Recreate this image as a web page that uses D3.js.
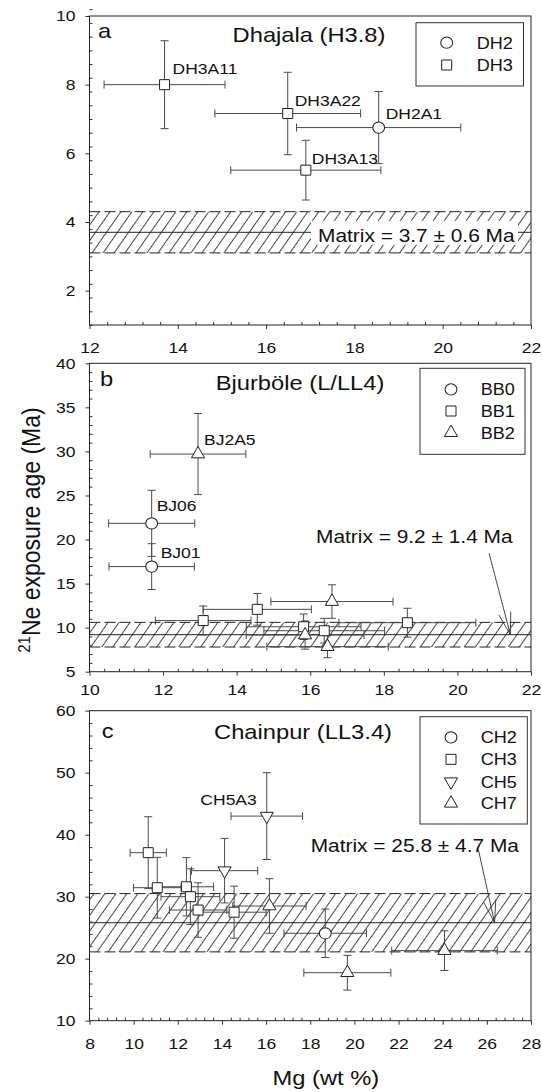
<!DOCTYPE html>
<html><head><meta charset="utf-8">
<script src="https://cdn.jsdelivr.net/npm/d3@7"></script>
<style>body{margin:0;background:#fff}svg{display:block}</style>
</head><body>
<script>
// ---------------- DATA ----------------
// each point: [x (Mg wt%), x error, y (21Ne age Ma), y error]
const aSeries = ["DH2", "DH3"];
const aDH2 = [[18.55, 1.86, 6.75, 1.05]];
const aDH3 = [[13.70, 1.37, 8.00, 1.28], [16.49, 1.65, 7.16, 1.20], [16.90, 1.70, 5.51, 0.87]];
const aPointLabels = [["DH3A11", "DH3", 0], ["DH3A22", "DH3", 1], ["DH2A1", "DH2", 0], ["DH3A13", "DH3", 2]];
const aMatrix = [3.7, 0.6];
const aXTicks = [12, 14, 16, 18, 20, 22];
const aYTicks = [2, 4, 6, 8, 10];

const bSeries = ["BB0", "BB1", "BB2"];
const bBB0 = [[11.69, 1.17, 21.84, 3.75], [11.69, 1.16, 16.93, 2.60]];
const bBB1 = [[13.09, 1.30, 10.80, 1.65], [14.56, 1.47, 12.08, 1.80], [15.82, 1.56, 10.10, 1.45], [16.38, 1.64, 9.65, 1.40], [18.64, 1.86, 10.56, 1.64]];
const bBB2 = [[12.95, 1.30, 29.70, 4.60], [16.59, 1.66, 12.96, 1.90], [15.86, 1.60, 9.16, 1.60], [16.47, 1.65, 7.84, 1.25]];
const bPointLabels = [["BJ2A5", "BB2", 0], ["BJ06", "BB0", 0], ["BJ01", "BB0", 1]];
const bMatrix = [9.2, 1.4];
const bArrow = [[20.86, 18.44], [21.44, 9.2]];
const bXTicks = [10, 12, 14, 16, 18, 20, 22];
const bYTicks = [5, 10, 15, 20, 25, 30, 35, 40];

const cSeries = ["CH2", "CH3", "CH5", "CH7"];
const cCH2 = [[18.68, 1.87, 24.10, 3.90]];
const cCH3 = [[10.66, 0.82, 37.10, 5.80], [11.07, 1.08, 31.45, 4.90], [12.39, 1.23, 31.60, 4.70], [12.57, 1.33, 30.00, 4.50], [12.92, 1.30, 27.85, 4.40], [14.55, 1.45, 27.50, 4.20]];
const cCH5 = [[14.12, 1.50, 34.20, 5.20], [16.03, 1.62, 43.00, 7.00]];
const cCH7 = [[16.15, 1.66, 28.50, 4.40], [19.68, 1.97, 17.74, 2.80], [24.08, 2.39, 21.30, 3.20]];
const cPointLabels = [["CH5A3", "CH5", 1]];
const cMatrix = [25.8, 4.7];
const cArrow = [[25.62, 37.53], [26.35, 25.8]];
const cXTicks = [8, 10, 12, 14, 16, 18, 20, 22, 24, 26, 28];
const cYTicks = [10, 20, 30, 40, 50, 60];

const xTitle = "Mg (wt %)";
const yTitleSup = "21";
const yTitleMain = "Ne exposure age (Ma)";

// ---------------- LAYOUT / STYLE ----------------
const W = 542, H = 1092, SX = 1.13;
const FONT = "'Liberation Sans', Arial, Helvetica, sans-serif";
const INK = "#222", BAR = "#4a4a4a";
const L = 89.5, R = 531;
const TICK_FS = 15.5, LEG_FS = 16, LAB_FS = 15.5, MAT_FS = 18.5, TITLE_FS = 21;

const panels = [
  { letter: "a", title: "Dhajala (H3.8)", top: 16, bottom: 325, xd: [12, 22], yd: [1, 10],
    xt: aXTicks, yt: aYTicks, xMinorStep: 0.4, yMinorStep: 0.4, xPad: 13,
    series: aSeries, data: { DH2: aDH2, DH3: aDH3 }, shapes: { DH2: "circle", DH3: "square" },
    labels: aPointLabels, labelOff: { DH3A11: [8, -11], DH3A22: [7, -8], DH2A1: [7, -9], DH3A13: [6, -6] },
    matrix: aMatrix, mText: "Matrix = 3.7 \u00b1 0.6 Ma", mPos: [318, 241.5], mBox: true, arrow: null,
    titleX: 309, titleY: 41.5, letterX: 98, letterY: 38,
    legend: { x0: 416, x1: 523.5, y0: 22.7, y1: 86, symX: 446.7, txtX: 476.7, rows: [42.7, 65] } },
  { letter: "b", title: "Bjurb\u00f6le (L/LL4)", top: 363.3, bottom: 671.7, xd: [10, 22], yd: [5, 40],
    xt: bXTicks, yt: bYTicks, xMinorStep: 0.4, yMinorStep: 1, xPad: 8,
    series: bSeries, data: { BB0: bBB0, BB1: bBB1, BB2: bBB2 }, shapes: { BB0: "circle", BB1: "square", BB2: "triangle" },
    labels: bPointLabels, labelOff: { BJ2A5: [6, -9], BJ06: [5, -12], BJ01: [9, -9] },
    matrix: bMatrix, mText: "Matrix = 9.2 \u00b1 1.4 Ma", mPos: [316, 542.7], mBox: false, arrow: bArrow,
    titleX: 300, titleY: 390, letterX: 100, letterY: 386,
    legend: { x0: 420, x1: 525, y0: 368.3, y1: 454.3, symX: 451, txtX: 480.7, rows: [389.3, 411, 432.7] } },
  { letter: "c", title: "Chainpur (LL3.4)", top: 710.7, bottom: 1020.7, xd: [8, 28], yd: [10, 60],
    xt: cXTicks, yt: cYTicks, xMinorStep: 0.4, yMinorStep: 2, xPad: 13,
    series: cSeries, data: { CH2: cCH2, CH3: cCH3, CH5: cCH5, CH7: cCH7 }, shapes: { CH2: "circle", CH3: "square", CH5: "triangleDown", CH7: "triangle" },
    labels: cPointLabels, labelOff: { CH5A3: [-10, -11, "end"] },
    matrix: cMatrix, mText: "Matrix = 25.8 \u00b1 4.7 Ma", mPos: [310.7, 851.7], mBox: false, arrow: cArrow,
    titleX: 303, titleY: 739.3, letterX: 101.7, letterY: 738.3,
    legend: { x0: 420, x1: 527.3, y0: 716.7, y1: 824, symX: 451, txtX: 480.7, rows: [737.3, 759.3, 781.7, 803.3] } }
];

const svg = d3.select("body").append("svg").attr("width", W).attr("height", H)
  .style("font-family", FONT);

const defs = svg.append("defs");
const pat = defs.append("pattern").attr("id", "hatch").attr("patternUnits", "userSpaceOnUse")
  .attr("width", 9).attr("height", 9).attr("patternTransform", "rotate(35)");
pat.append("line").attr("x1", 4.5).attr("y1", -1).attr("x2", 4.5).attr("y2", 10)
  .attr("stroke", "#333").attr("stroke-width", 0.9);

// horizontally stretched text helper
function stretch(sel) {
  sel.each(function () {
    const t = d3.select(this);
    const x = +t.attr("x") || 0, y = +t.attr("y") || 0;
    t.attr("x", 0).attr("y", 0).attr("transform", `translate(${x},${y}) scale(${SX},1)`);
  });
}
function addText(g, x, y, txt, size, anchor) {
  const t = g.append("text").attr("x", x).attr("y", y).text(txt)
    .attr("font-size", size).attr("fill", "#111").attr("text-anchor", anchor || "start");
  stretch(t);
  return t;
}
function symPath(shape, size) {
  const map = { circle: d3.symbolCircle, square: d3.symbolSquare, triangle: d3.symbolTriangle, triangleDown: d3.symbolTriangle };
  return d3.symbol().type(map[shape]).size(size)();
}
const symSize = { circle: 100, square: 100, triangle: 75, triangleDown: 75 };
function drawSym(g, shape, cx, cy) {
  const rot = shape === "triangleDown" ? " rotate(180)" : "";
  g.append("path").attr("d", symPath(shape, symSize[shape]))
    .attr("transform", `translate(${cx},${cy})${rot} scale(${shape === "circle" ? 1.05 : 1.0},1)`)
    .attr("fill", "#fff").attr("stroke", INK).attr("stroke-width", 1);
}
function minorTicks(dom, step, majors) {
  const out = [];
  const n = Math.round((dom[1] - dom[0]) / step);
  for (let i = 0; i <= n; i++) {
    const v = +(dom[0] + i * step).toFixed(4);
    if (!majors.some(m => Math.abs(m - v) < 1e-6)) out.push(v);
  }
  return out;
}

panels.forEach(p => {
  const g = svg.append("g");
  const x = d3.scaleLinear().domain(p.xd).range([L, R]);
  const y = d3.scaleLinear().domain(p.yd).range([p.bottom, p.top]);
  const clipId = "clip" + p.letter;
  defs.append("clipPath").attr("id", clipId).append("rect")
    .attr("x", L).attr("y", p.top).attr("width", R - L).attr("height", p.bottom - p.top);

  // matrix band
  const [mv, me] = p.matrix;
  const band = g.append("g").attr("clip-path", `url(#${clipId})`);
  band.append("rect").attr("x", L).attr("width", R - L)
    .attr("y", y(mv + me)).attr("height", y(mv - me) - y(mv + me)).attr("fill", "url(#hatch)");
  [mv + me, mv - me].forEach(v => band.append("line").attr("x1", L).attr("x2", R)
    .attr("y1", y(v)).attr("y2", y(v)).attr("stroke", "#222").attr("stroke-width", 1)
    .attr("stroke-dasharray", "11,4"));
  band.append("line").attr("x1", L).attr("x2", R).attr("y1", y(mv)).attr("y2", y(mv))
    .attr("stroke", "#222").attr("stroke-width", 1);
  if (p.mBox) {
    band.append("rect").attr("x", p.mPos[0] - 7).attr("y", y(mv) - 11.5)
      .attr("width", R - 13 - (p.mPos[0] - 7)).attr("height", 24).attr("fill", "#fff");
  }

  // error bars + markers
  const eb = g.append("g").attr("stroke", BAR).attr("stroke-width", 1).attr("fill", "none");
  const cap = 4;
  p.series.forEach(s => {
    p.data[s].forEach(([xv, xe, yv, ye]) => {
      const cx = x(xv), cy = y(yv);
      eb.append("line").attr("x1", x(xv - xe)).attr("x2", x(xv + xe)).attr("y1", cy).attr("y2", cy);
      eb.append("line").attr("x1", x(xv - xe)).attr("x2", x(xv - xe)).attr("y1", cy - cap).attr("y2", cy + cap);
      eb.append("line").attr("x1", x(xv + xe)).attr("x2", x(xv + xe)).attr("y1", cy - cap).attr("y2", cy + cap);
      eb.append("line").attr("x1", cx).attr("x2", cx).attr("y1", y(yv - ye)).attr("y2", y(yv + ye));
      eb.append("line").attr("x1", cx - cap).attr("x2", cx + cap).attr("y1", y(yv - ye)).attr("y2", y(yv - ye));
      eb.append("line").attr("x1", cx - cap).attr("x2", cx + cap).attr("y1", y(yv + ye)).attr("y2", y(yv + ye));
    });
  });
  const mk = g.append("g");
  p.series.forEach(s => {
    p.data[s].forEach(([xv, , yv]) => drawSym(mk, p.shapes[s], x(xv), y(yv)));
  });

  // point labels
  p.labels.forEach(([name, s, i]) => {
    const [xv, , yv] = p.data[s][i];
    const off = p.labelOff[name];
    addText(g, x(xv) + off[0], y(yv) + off[1], name, LAB_FS, off[2] || "start");
  });

  // matrix label + arrow
  addText(g, p.mPos[0], p.mPos[1], p.mText, MAT_FS, "start");
  if (p.arrow) {
    const [s0, s1] = p.arrow;
    const x0 = x(s0[0]), y0 = y(s0[1]), x1 = x(s1[0]), y1 = y(s1[1]);
    const ar = g.append("g").attr("stroke", "#333").attr("stroke-width", 0.9);
    ar.append("line").attr("x1", x0).attr("y1", y0).attr("x2", x1).attr("y2", y1);
    const ang = Math.atan2(y0 - y1, x0 - x1);
    [-0.27, 0.27].forEach(da => {
      ar.append("line").attr("x1", x1).attr("y1", y1)
        .attr("x2", x1 + 23 * Math.cos(ang + da)).attr("y2", y1 + 23 * Math.sin(ang + da));
    });
  }

  // titles
  addText(g, p.titleX, p.titleY, p.title, TITLE_FS, "middle");
  addText(g, p.letterX, p.letterY, p.letter, TITLE_FS, "start");

  // legend
  const lg = p.legend;
  g.append("rect").attr("x", lg.x0).attr("y", lg.y0).attr("width", lg.x1 - lg.x0).attr("height", lg.y1 - lg.y0)
    .attr("fill", "#fff").attr("stroke", "#333").attr("stroke-width", 1);
  p.series.forEach((s, i) => {
    drawSym(g, p.shapes[s], lg.symX, lg.rows[i]);
    addText(g, lg.txtX, lg.rows[i] + 5.8, s, LEG_FS, "start");
  });

  // axes
  const ax = g.append("g").attr("transform", `translate(0,${p.bottom})`)
    .call(d3.axisBottom(x).tickValues(p.xt).tickSize(4).tickPadding(p.xPad).tickFormat(d3.format("d")));
  g.append("g").attr("transform", `translate(0,${p.bottom})`)
    .call(d3.axisTop(x).tickValues(minorTicks(p.xd, p.xMinorStep, p.xt)).tickSize(3).tickFormat(""));
  const ay = g.append("g").attr("transform", `translate(${L},0)`)
    .call(d3.axisLeft(y).tickValues(p.yt).tickSize(4).tickPadding(10).tickFormat(d3.format("d")));
  g.append("g").attr("transform", `translate(${L},0)`)
    .call(d3.axisRight(y).tickValues(minorTicks(p.yd, p.yMinorStep, p.yt)).tickSize(3).tickFormat(""));
  g.selectAll(".domain").remove();
  g.selectAll(".tick line").attr("stroke", "#333");
  [ax, ay].forEach(a => {
    a.selectAll("text").attr("font-size", TICK_FS).attr("fill", "#111").attr("font-family", FONT);
    stretch(a.selectAll("text"));
  });
  // frame
  g.append("rect").attr("x", L).attr("y", p.top).attr("width", R - L).attr("height", p.bottom - p.top)
    .attr("fill", "none").attr("stroke", "#222").attr("stroke-width", 1);
});

// axis titles
const xt = svg.append("text").attr("x", 325.8).attr("y", 1085).attr("text-anchor", "middle")
  .attr("font-size", 21).attr("fill", "#111").text(xTitle);
stretch(xt);
const yt = svg.append("text").attr("text-anchor", "middle").attr("fill", "#111")
  .attr("transform", `translate(40,530) rotate(-90) scale(1,${SX})`);
yt.append("tspan").attr("font-size", 15).attr("dy", -9).text(yTitleSup);
yt.append("tspan").attr("font-size", 23).attr("dy", 9).text(yTitleMain);
</script>
</body></html>
